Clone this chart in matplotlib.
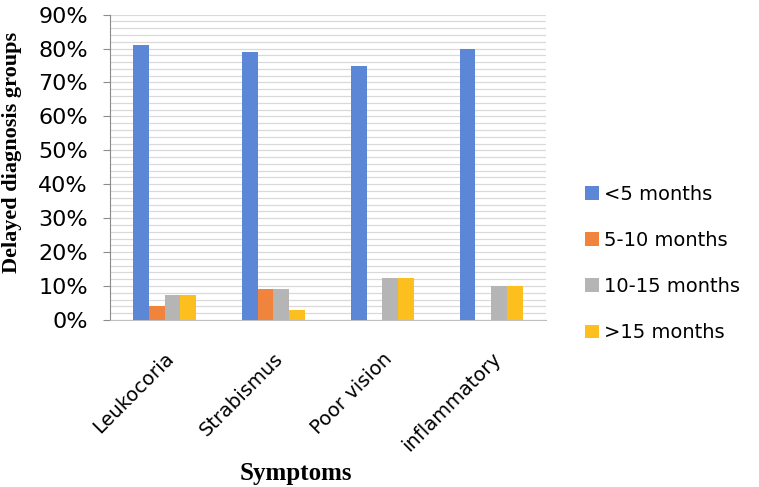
import numpy as np
import matplotlib
matplotlib.use("Agg")
import matplotlib.pyplot as plt
from matplotlib.ticker import MultipleLocator, PercentFormatter

symptoms = ["Leukocoria", "Strabismus", "Poor vision", "inflammatory"]
groups = ["<5 months", "5-10 months", "10-15 months", ">15 months"]
lt5 = [81, 79, 75, 80]
m5_10 = [4, 9, 0, 0]
m10_15 = [7.5, 9, 12.5, 10]
gt15 = [7.5, 3, 12.5, 10]
colors = ["#5b87d6", "#f0843c", "#b5b5b5", "#fcbf1e"]

fig = plt.figure(figsize=(7.59, 4.87), dpi=100)
ax = fig.add_axes([0.145, 0.343, 0.574, 0.627])

x = np.arange(len(symptoms))
w = 0.145
for i, (vals, lab) in enumerate(zip([lt5, m5_10, m10_15, gt15], groups)):
    ax.bar(x + (i - 1.5) * w, vals, w, color=colors[i], label=lab, zorder=3)

ax.set_xlim(-0.5, len(symptoms) - 0.5)
ax.set_ylim(0, 90)
ax.yaxis.set_major_locator(MultipleLocator(10))
ax.yaxis.set_minor_locator(MultipleLocator(2))
ax.yaxis.set_major_formatter(PercentFormatter(decimals=0))
ax.grid(axis="y", which="both", color="#d9d9d9", lw=0.9, zorder=0)

for s in ["top", "right"]:
    ax.spines[s].set_visible(False)
ax.spines["left"].set_color("#8c8c8c")
ax.spines["bottom"].set_color("#bfbfbf")
ax.tick_params(axis="y", which="major", length=5, color="#8c8c8c", labelsize=16, pad=11)
ax.tick_params(axis="y", which="minor", length=0)
ax.tick_params(axis="x", length=0, labelsize=14, pad=21)
ax.set_xticks(x)
ax.set_xticklabels(symptoms, rotation=45, ha="right", rotation_mode="anchor")

ax.set_ylabel("Delayed diagnosis groups", family="Liberation Serif",
              fontweight="bold", fontsize=16)
ax.yaxis.set_label_coords(-0.203, 0.55)
ax.set_xlabel("Symptoms", family="Liberation Serif", fontweight="bold",
              fontsize=18)
ax.xaxis.set_label_coords(0.427, -0.466)

ax.legend(loc="center left", bbox_to_anchor=(1.05, 0.185), frameon=False,
          fontsize=14, handlelength=0.7, handleheight=0.7, handletextpad=0.3,
          labelspacing=1.4)

fig.savefig("out.png", dpi=100, facecolor="white")
